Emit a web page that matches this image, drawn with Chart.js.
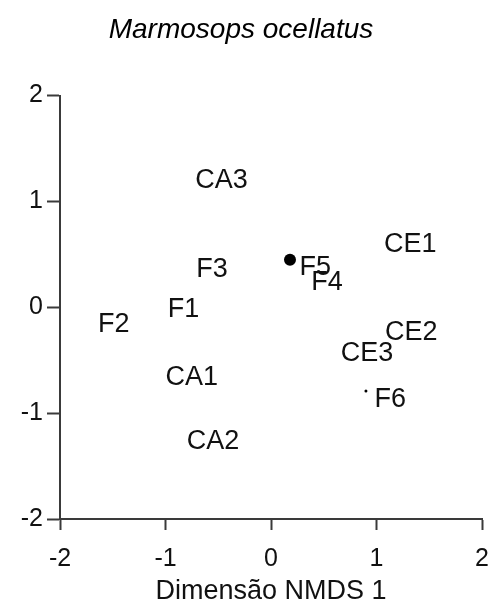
<!DOCTYPE html>
<html>
<head>
<meta charset="utf-8">
<script src="https://cdn.jsdelivr.net/npm/chart.js@4/dist/chart.umd.min.js"></script>
<style>
  body { margin: 0; background: #fff; }
</style>
</head>
<body>
<canvas id="nmds" width="491" height="610"></canvas>
<script>
// Site labels and their NMDS coordinates
const siteLabels = ['CA3', 'F3', 'F1', 'F2', 'CA1', 'CA2', 'CE1', 'F5', 'F4', 'CE2', 'CE3', 'F6'];
const siteX = [-0.47, -0.56, -0.83, -1.49, -0.75, -0.55, 1.32, 0.42, 0.53, 1.33, 0.91, 1.13];
const siteY = [1.20, 0.36, -0.02, -0.16, -0.66, -1.27, 0.59, 0.38, 0.23, -0.24, -0.44, -0.87];

// Plotted markers
const markerX = [0.18, 0.90];
const markerY = [0.45, -0.79];

// Axis ticks
const tickValues = [-2, -1, 0, 1, 2];

const FONT = "'Liberation Sans', Arial, sans-serif";
const AXIS = '#3a3a3a';

// Draw the site names at their coordinates
const siteLabelPlugin = {
  id: 'siteLabels',
  afterDatasetsDraw(chart) {
    const ctx = chart.ctx;
    const xs = chart.scales.x, ys = chart.scales.y;
    ctx.save();
    ctx.font = '27px ' + FONT;
    ctx.fillStyle = '#111';
    ctx.textAlign = 'center';
    ctx.textBaseline = 'middle';
    siteLabels.forEach((name, i) => {
      ctx.fillText(name, xs.getPixelForValue(siteX[i]), ys.getPixelForValue(siteY[i]));
    });
    ctx.restore();
  }
};

const axisCommon = {
  type: 'linear',
  min: -2,
  max: 2,
  afterBuildTicks: scale => { scale.ticks = tickValues.map(v => ({ value: v })); },
  grid: { drawOnChartArea: false, drawTicks: true, color: AXIS, tickColor: AXIS, tickWidth: 2 },
  border: { color: AXIS, width: 2 }
};

new Chart(document.getElementById('nmds'), {
  type: 'scatter',
  data: {
    datasets: [{
      label: 'markers',
      data: markerX.map((x, i) => ({ x, y: markerY[i] })),
      backgroundColor: '#000',
      borderColor: '#000',
      pointRadius: [6, 1.5],
      borderWidth: 0
    }]
  },
  options: {
    responsive: false,
    animation: false,
    layout: { padding: { left: 0, right: 9, top: 0, bottom: 0 } },
    plugins: {
      legend: { display: false },
      tooltip: { enabled: false },
      title: {
        display: true,
        text: 'Marmosops ocellatus',
        color: '#000',
        font: { family: FONT, size: 28, style: 'italic', weight: 'normal' },
        padding: { top: 13, bottom: 49 }
      }
    },
    scales: {
      x: {
        ...axisCommon,
        grid: { ...axisCommon.grid, tickLength: 11 },
        ticks: { color: '#111', font: { family: FONT, size: 25 }, padding: 14 },
        title: {
          display: true,
          text: 'Dimensão NMDS 1',
          color: '#111',
          font: { family: FONT, size: 27 },
          padding: { top: 0, bottom: 2 }
        },
        afterFit: scale => {
          scale.height = 91;
          scale.paddingLeft = 0;
          scale.paddingRight = 0;
        }
      },
      y: {
        ...axisCommon,
        grid: { ...axisCommon.grid, tickLength: 13 },
        ticks: { color: '#111', font: { family: FONT, size: 25 }, padding: 4 },
        afterFit: scale => {
          scale.width = 60;
          scale.paddingTop = 0;
          scale.paddingBottom = 0;
        }
      }
    }
  },
  plugins: [siteLabelPlugin]
});
</script>
</body>
</html>
